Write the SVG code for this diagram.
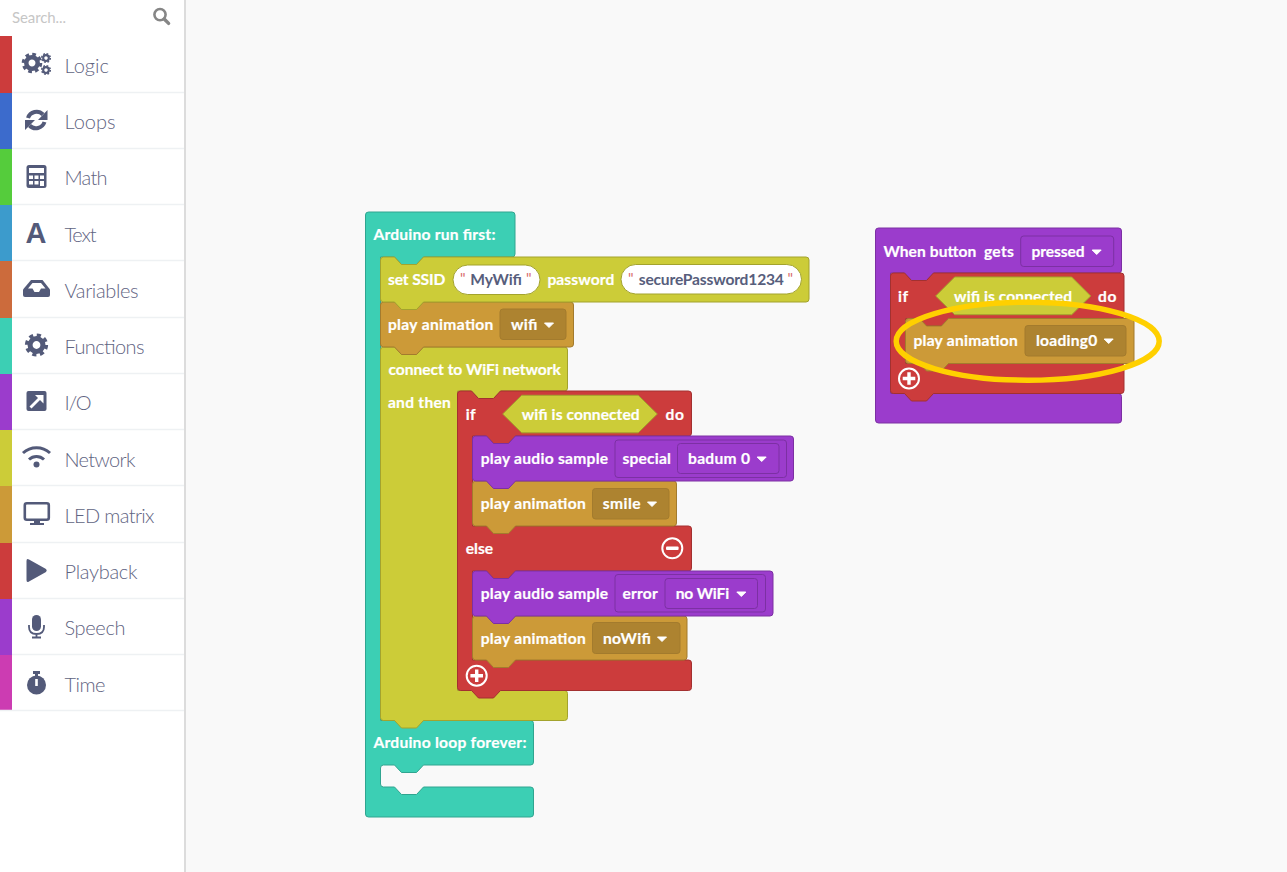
<svg xmlns="http://www.w3.org/2000/svg" width="1287" height="872" viewBox="0 0 1287 872">
<style>
.b{stroke-width:1;stroke-linejoin:round}
.teal{fill:#3ccfb4;stroke:#30a590}
.yel{fill:#cccc38;stroke:#a3a32d}
.gold{fill:#cc9a38;stroke:#a37b2d}
.red{fill:#cc3c3c;stroke:#a33030}
.pur{fill:#9b3ccc;stroke:#7c30a3}
text{font-variant-ligatures:none}
.t{font:700 15.6px "Lato","Liberation Sans",sans-serif;fill:#fff;stroke:#fff;stroke-width:.2;transform:translateX(.4px)}
.s{font:700 15.6px "Lato","Liberation Sans",sans-serif;fill:#575e7c}
.q{font:400 15px "Lato","Liberation Sans",sans-serif;fill:#d86a6a}
.m{font:300 20px "Lato","Liberation Sans",sans-serif;fill:#5f6482}
.dd{fill:#ad8330;stroke:#a37b2d}
.dp{fill:#9b3ccc;stroke:#7c30a3}
.pill{fill:#fff;stroke:#a3a32d}
.car{fill:#fff}
.ic{fill:#535a79}
.sep{stroke:#eef1f3;stroke-width:1.5}
.round{fill:none;stroke:#fff;stroke-width:2}
</style>
<defs>
<g id="gear"><circle r="5.6" fill="none" stroke="#535a79" stroke-width="4.4"/><circle r="8.6" fill="none" stroke="#535a79" stroke-width="3" stroke-dasharray="3.6 3.15"/></g>
<path id="caret" d="M-4.5,-2H4.5L0,2.5Z" class="car" stroke="#fff" stroke-width="1" stroke-linejoin="round"/>
</defs>
<rect width="1287" height="872" fill="#f9f9f9"/>
<g id="sidebar">
<rect x="184" width="2" height="872" fill="#dcdcdc"/>
<rect width="184" height="872" fill="#fff"/>
<text x="12" y="23" textLength="54" style="font:400 15px 'Lato','Liberation Sans',sans-serif;fill:#c6c6c6">Search...</text>
<g fill="none" stroke="#868686"><circle cx="160" cy="14.6" r="5.6" stroke-width="2.6"/><path d="M164.2,19L168.6,23.4" stroke-width="3.4" stroke-linecap="round"/></g>
<rect y="36" width="12" height="57" fill="#cc3c3c"/>
<rect y="93" width="12" height="56" fill="#3c6bcc"/>
<rect y="149" width="12" height="56" fill="#55cc3c"/>
<rect y="205" width="12" height="56" fill="#3c9bcc"/>
<rect y="261" width="12" height="57" fill="#cc6b3c"/>
<rect y="318" width="12" height="56" fill="#3ccfb4"/>
<rect y="374" width="12" height="56" fill="#9b3ccc"/>
<rect y="430" width="12" height="56" fill="#cccc38"/>
<rect y="486" width="12" height="57" fill="#cc9a38"/>
<rect y="543" width="12" height="56" fill="#cc3c3c"/>
<rect y="599" width="12" height="56" fill="#9b3ccc"/>
<rect y="655" width="12" height="56" fill="#cc3cb2"/>
<path class="sep" d="M12,92.5H184M12,148.5H184M12,204.5H184M12,260.5H184M12,317.5H184M12,373.5H184M12,429.5H184M12,485.5H184M12,542.5H184M12,598.5H184M12,654.5H184M0,710.5H184"/>
<g id="cat-logic"><use href="#gear" transform="translate(32,63) scale(1.02)"/><use href="#gear" transform="translate(46,58) scale(.5)"/><use href="#gear" transform="translate(46,70) scale(.5)"/><text class="m" x="64.5" y="73" textLength="44.5">Logic</text></g>
<g id="cat-loops"><g fill="none" stroke="#535a79" stroke-width="4"><path d="M28,118A9,9 0 0 1 43,114.5"/><path d="M44.5,122A9,9 0 0 1 29.5,125.5"/></g><path class="ic" d="M47.5,110V120H38ZM25,130V120H35Z"/><text class="m" x="64.5" y="129" textLength="51">Loops</text></g>
<g id="cat-math"><rect class="ic" x="26.5" y="165" width="20" height="23" rx="2.5"/><g fill="#fff"><rect x="29" y="168" width="15" height="5"/><rect x="29" y="175.5" width="4" height="3.5"/><rect x="34.5" y="175.5" width="4" height="3.5"/><rect x="40" y="175.5" width="4" height="3.5"/><rect x="29" y="181" width="4" height="3.5"/><rect x="34.5" y="181" width="4" height="3.5"/><rect x="40" y="181" width="4" height="5"/></g><text class="m" x="64.5" y="185" textLength="43">Math</text></g>
<g id="cat-text"><text x="25.5" y="243" style="font:700 29px 'Liberation Sans',sans-serif;fill:#535a79">A</text><text class="m" x="64.5" y="242" textLength="32">Text</text></g>
<g id="cat-variables"><path class="ic" d="M31,280H42.5L50,289.5V295Q50,297 48,297H25Q23,297 23,295V289.5Z"/><path fill="#fff" d="M32.5,283H41L45.5,288.5H41L39,292H34.5L32.5,288.5H28Z"/><text class="m" x="64.5" y="298" textLength="74">Variables</text></g>
<g id="cat-functions"><use href="#gear" transform="translate(36.5,345) scale(1.15)"/><text class="m" x="64.5" y="354" textLength="80">Functions</text></g>
<g id="cat-io"><rect class="ic" x="26.5" y="391" width="20" height="20" rx="2"/><path fill="none" stroke="#fff" stroke-width="2.8" d="M30.5,407.5L40,398"/><path fill="#fff" d="M35,395H43.5V403.5Z"/><text class="m" x="64.5" y="410" textLength="27">I/O</text></g>
<g id="cat-network"><g fill="none" stroke="#535a79" stroke-width="3"><path d="M23,453A20,20 0 0 1 50,453"/><path d="M29,459.5A11,11 0 0 1 44,459.5"/></g><circle class="ic" cx="36.5" cy="464.5" r="3"/><text class="m" x="64.5" y="467" textLength="71">Network</text></g>
<g id="cat-led"><rect x="24.8" y="503.3" width="24" height="16.5" rx="2" fill="none" stroke="#535a79" stroke-width="2.6"/><path class="ic" d="M34,520H40V523H44V525H30V523H34Z"/><text class="m" x="64.5" y="523" textLength="90">LED matrix</text></g>
<g id="cat-playback"><path class="ic" d="M26.5,561Q26.5,558 29,559.5L46,569Q47.5,570.5 46,572L29,581.5Q26.5,583 26.5,580Z"/><text class="m" x="64.5" y="579" textLength="73">Playback</text></g>
<g id="cat-speech"><rect class="ic" x="32" y="615" width="9" height="16" rx="4.5"/><path fill="none" stroke="#535a79" stroke-width="1.8" d="M29,625V627Q29,634 36.5,634Q44,634 44,627V625M36.5,634V637M32,637.5H41"/><text class="m" x="64.5" y="635" textLength="61">Speech</text></g>
<g id="cat-time"><circle class="ic" cx="36.5" cy="685" r="9.5"/><rect class="ic" x="33" y="671" width="7" height="3"/><rect class="ic" x="35" y="673" width="3" height="4"/><rect x="35.2" y="679" width="2.6" height="7" fill="#fff"/><text class="m" x="64.5" y="692" textLength="41">Time</text></g>
</g>
<g id="connectors"/>
<g id="stack-run-first">
<path id="arduino-block" class="b teal" d="M365.5,215q0-3 3-3H512q3 0 3 3V254q0 3-3 3H423.5l-7 7.5h-15l-7-7.5H380.5V720.5H530.5q3 0 3 3V762q0 3-3 3H423.5l-7 7.5h-15l-7-7.5H383.5q-3 0-3 3V784q0 3 3 3H394.5l7 7.5h15l7-7.5H530.5q3 0 3 3V814q0 3-3 3H368.5q-3 0-3-3Z"/>
<text class="t" x="373" y="240" textLength="122">Arduino run first:</text>
<text class="t" x="373" y="748" textLength="153">Arduino loop forever:</text>
<g id="connect-wifi">
<path class="b yel" d="M380.5,350q0-3 3-3H394.5l7 7.5h15l7-7.5H564.5q3 0 3 3V388q0 3-3 3H500.5l-7 7.5h-15l-7-7.5H457.5V690.5H564.5q3 0 3 3V717.5q0 3-3 3H423.5l-7 7.5h-15l-7-7.5H383.5q-3 0-3-3Z"/>
<text class="t" x="388" y="375" textLength="172.5">connect to WiFi network</text>
<text class="t" x="387.5" y="408" textLength="63">and then</text>
</g>
<g id="if-wifi-1">
<path class="b red" d="M457.5,394q0-3 3-3H471.5l7 7.5h15l7-7.5H688.5q3 0 3 3V433q0 3-3 3H515.5l-7 7.5h-15l-7-7.5H472.5V526H688.5q3 0 3 3V568q0 3-3 3H515.5l-7 7.5h-15l-7-7.5H472.5V660H688.5q3 0 3 3V687.5q0 3-3 3H500.5l-7 7.5h-15l-7-7.5H460.5q-3 0-3-3Z"/>
<text class="t" x="465.3" y="420" textLength="10">if</text>
<text class="t" x="665" y="420" textLength="18.5">do</text>
<text class="t" x="465.3" y="554" textLength="27.5">else</text>
<circle class="round" cx="672.3" cy="548.3" r="10"/><rect x="666" y="546.6" width="12.6" height="3.4" rx="1" fill="#fff"/>
<circle class="round" cx="476.7" cy="675.7" r="10"/><path d="M470.4,675.7H483M476.7,669.4V682" stroke="#fff" stroke-width="3.4"/>
</g>
<g id="play-nowifi">
<path class="b gold" d="M472.5,619q0-3 3-3H486.5l7 7.5h15l7-7.5H684q3 0 3 3V657q0 3-3 3H515.5l-7 7.5h-15l-7-7.5H475.5q-3 0-3-3Z"/>
<text class="t" x="480.3" y="644" textLength="105">play animation</text>
<rect class="b dd" x="592.5" y="622.5" width="87.5" height="31" rx="3"/>
<text class="t" x="602.5" y="644" textLength="48">noWifi</text><use href="#caret" x="662" y="639"/>
</g>
<g id="audio-error">
<path class="b pur" d="M472.5,574q0-3 3-3H486.5l7 7.5h15l7-7.5H770q3 0 3 3V613q0 3-3 3H515.5l-7 7.5h-15l-7-7.5H475.5q-3 0-3-3Z"/>
<text class="t" x="480.3" y="599" textLength="127.5">play audio sample</text>
<rect class="b dp" x="615" y="574.5" width="150.5" height="37.5" rx="3"/>
<text class="t" x="622" y="599" textLength="35.5">error</text>
<rect class="b dp" x="665" y="578.5" width="92.5" height="30" rx="3"/>
<text class="t" x="675.3" y="599" textLength="53.5">no WiFi</text><use href="#caret" x="741.3" y="594"/>
</g>
<g id="play-smile">
<path class="b gold" d="M472.5,484q0-3 3-3H486.5l7 7.5h15l7-7.5H673.5q3 0 3 3V523q0 3-3 3H515.5l-7 7.5h-15l-7-7.5H475.5q-3 0-3-3Z"/>
<text class="t" x="480.3" y="509" textLength="105">play animation</text>
<rect class="b dd" x="592.5" y="488.5" width="76.5" height="30.5" rx="3"/>
<text class="t" x="602.3" y="509" textLength="38">smile</text><use href="#caret" x="652" y="504"/>
</g>
<g id="audio-special">
<path class="b pur" d="M472.5,439q0-3 3-3H486.5l7 7.5h15l7-7.5H790.5q3 0 3 3V478q0 3-3 3H515.5l-7 7.5h-15l-7-7.5H475.5q-3 0-3-3Z"/>
<text class="t" x="480.3" y="464" textLength="127.5">play audio sample</text>
<rect class="b dp" x="615" y="440" width="171.5" height="37.5" rx="3"/>
<text class="t" x="622" y="464" textLength="48.5">special</text>
<rect class="b dp" x="677.5" y="443.5" width="101.5" height="30" rx="3"/>
<text class="t" x="687.6" y="464" textLength="62">badum 0</text><use href="#caret" x="761.7" y="459"/>
</g>
<g id="wifi-connected-1">
<path class="b yel" d="M502.7,414L521.7,395.3H638.2L657.3,414L638.2,432.8H521.7Z"/>
<text class="t" x="521.3" y="420" textLength="118">wifi is connected</text>
</g>
<g id="play-wifi">
<path class="b gold" d="M380.5,305q0-3 3-3H394.5l7 7.5h15l7-7.5H570.5q3 0 3 3V344q0 3-3 3H423.5l-7 7.5h-15l-7-7.5H383.5q-3 0-3-3Z"/>
<text class="t" x="387.5" y="330" textLength="105.5">play animation</text>
<rect class="b dd" x="500" y="309" width="66" height="30.5" rx="3"/>
<text class="t" x="510.5" y="330" textLength="26.5">wifi</text><use href="#caret" x="549" y="325"/>
</g>
<g id="set-ssid">
<path class="b yel" d="M380.5,260q0-3 3-3H394.5l7 7.5h15l7-7.5H806q3 0 3 3V299q0 3-3 3H423.5l-7 7.5h-15l-7-7.5H383.5q-3 0-3-3Z"/>
<text class="t" x="387.5" y="285" textLength="57.5">set SSID</text>
<rect class="b pill" x="453" y="265" width="87" height="29.5" rx="14.7"/>
<text class="q" x="460" y="284">"</text><text class="s" x="470.3" y="285" textLength="51.5">MyWifi</text><text class="q" x="526" y="284">"</text>
<text class="t" x="547" y="285" textLength="67">password</text>
<rect class="b pill" x="621" y="264.5" width="180.5" height="29.5" rx="14.7"/>
<text class="q" x="628" y="284">"</text><text class="s" x="638.7" y="285" textLength="145.2">securePassword1234</text><text class="q" x="787.5" y="284">"</text>
</g>
</g>
<g id="stack-button">
<path id="button-event" class="b pur" d="M875.5,231q0-3 3-3H1118.5q3 0 3 3V270q0 3-3 3H933.5l-7 7.5h-15l-7-7.5H890.5V393.5H1118.5q3 0 3 3V420q0 3-3 3H878.5q-3 0-3-3Z"/>
<text class="t" x="883" y="257" textLength="93">When button</text>
<text class="t" x="983.5" y="257" textLength="30">gets</text>
<rect class="b dp" x="1020.7" y="236" width="93" height="30.5" rx="3"/>
<text class="t" x="1031" y="257" textLength="53.2">pressed</text><use href="#caret" x="1096.7" y="252"/>
<g id="if-wifi-2">
<path class="b red" d="M890.5,276q0-3 3-3H904.5l7 7.5h15l7-7.5H1121q3 0 3 3V315.5q0 3-3 3H948.5l-7 7.5h-15l-7-7.5H905.5V363.5H1121q3 0 3 3V390.5q0 3-3 3H933.5l-7 7.5h-15l-7-7.5H893.5q-3 0-3-3Z"/>
<text class="t" x="897.7" y="302" textLength="10">if</text>
<text class="t" x="1097.7" y="302" textLength="18.5">do</text>
<circle class="round" cx="909" cy="378.5" r="10"/><path d="M902.7,378.5H915.3M909,372.2V384.8" stroke="#fff" stroke-width="3.4"/>
</g>
<g id="wifi-connected-2">
<path class="b yel" d="M935.7,296L954.7,277H1071.7L1090.7,296L1071.7,314.7H954.7Z"/>
<text class="t" x="953.7" y="302" textLength="118">wifi is connected</text>
</g>
<g id="play-loading">
<path class="b gold" d="M905.5,321.5q0-3 3-3H919.5l7 7.5h15l7-7.5H1131q3 0 3 3V360.5q0 3-3 3H948.5l-7 7.5h-15l-7-7.5H908.5q-3 0-3-3Z"/>
<text class="t" x="913" y="346" textLength="104.5">play animation</text>
<rect class="b dd" x="1025" y="325.5" width="101" height="30.5" rx="3"/>
<text class="t" x="1035.5" y="346" textLength="61.5">loading0</text><use href="#caret" x="1108.7" y="341"/>
</g>
</g>
<ellipse id="highlight" cx="1027.7" cy="341.2" rx="131.5" ry="39" fill="none" stroke="#ffd000" stroke-width="5.5"/>
</svg>
